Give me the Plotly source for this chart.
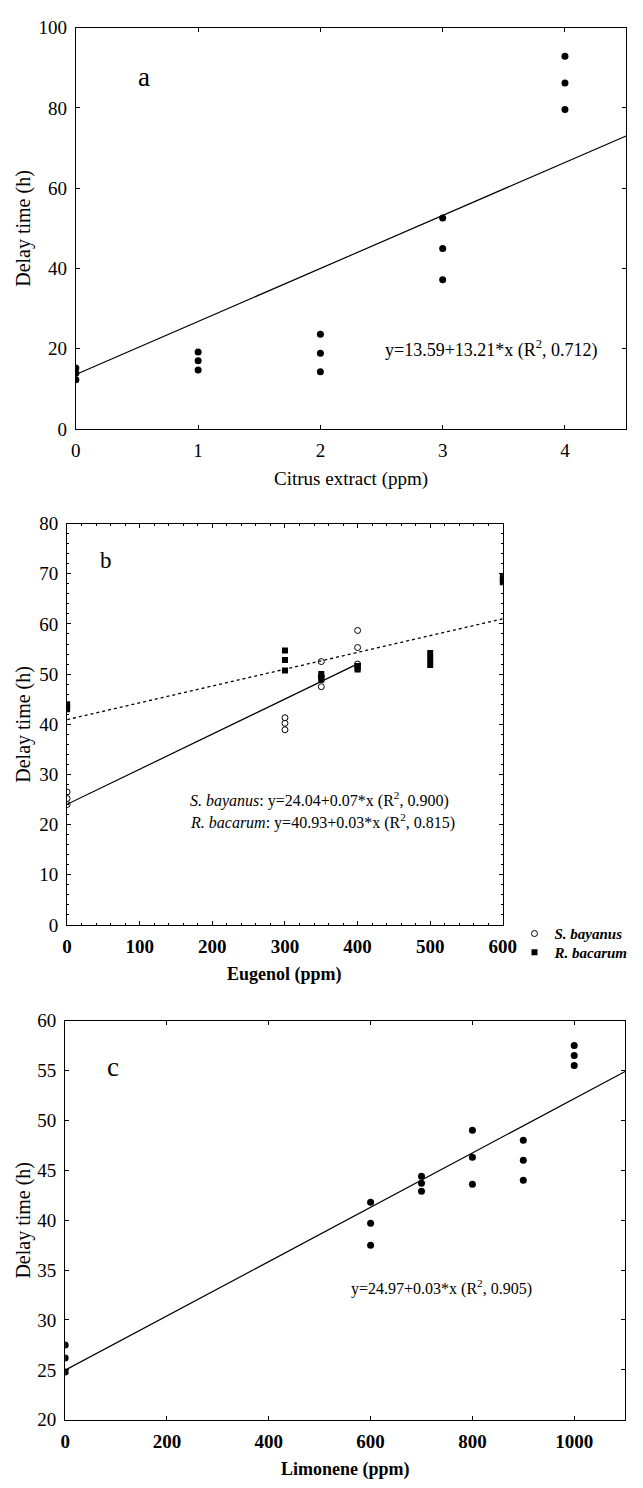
import plotly.graph_objects as go

# ---------------- data ----------------
# Panel a: Citrus extract
a_x = [0, 0, 0, 1, 1, 1, 2, 2, 2, 3, 3, 3, 4, 4, 4]
a_y = [15.2, 13.9, 12.3, 19.2, 17.0, 14.7, 23.6, 18.9, 14.3, 52.6, 45.0, 37.2, 92.9, 86.2, 79.6]
a_fit = {"intercept": 13.59, "slope": 13.21, "x": [0, 4.5]}
a_eq = "y=13.59+13.21*x (R<sup>2</sup>, 0.712)"

# Panel b: Eugenol
b_sb_x = [0, 0, 0, 300, 300, 300, 350, 350, 350, 400, 400, 400]
b_sb_y = [26.5, 25.2, 24.0, 41.3, 40.2, 38.9, 52.5, 49.5, 47.5, 58.7, 55.3, 52.0]
b_rb_x = [0, 0, 0, 300, 300, 300, 350, 350, 350, 400, 400, 400, 500, 500, 500, 600, 600, 600]
b_rb_y = [44.0, 43.5, 43.0, 54.7, 52.8, 50.7, 50.0, 49.4, 48.9, 51.6, 51.2, 50.9,
          54.2, 53.0, 51.8, 69.5, 68.8, 68.3]
b_sb_fit = {"intercept": 24.04, "slope": 0.07, "x": [0, 400]}
b_rb_fit = {"intercept": 40.93, "slope": 0.0335, "x": [0, 600]}
b_eq1 = "<i>S. bayanus</i>: y=24.04+0.07*x (R<sup>2</sup>, 0.900)"
b_eq2 = "<i>R. bacarum</i>: y=40.93+0.03*x (R<sup>2</sup>, 0.815)"

# Panel c: Limonene
c_x = [0, 0, 0, 600, 600, 600, 700, 700, 700, 800, 800, 800, 900, 900, 900, 1000, 1000, 1000]
c_y = [27.5, 26.2, 24.8, 41.8, 39.7, 37.5, 44.4, 43.7, 42.9, 49.0, 46.3, 43.6,
       48.0, 46.0, 44.0, 57.5, 56.5, 55.5]
c_fit = {"intercept": 24.97, "slope": 0.0272, "x": [0, 1100]}
c_eq = "y=24.97+0.03*x (R<sup>2</sup>, 0.905)"

# ---------------- layout helpers ----------------
W, H = 643, 1488
FONT = "Liberation Serif, Times New Roman, serif"


def px_x(p):
    return p / W


def px_y(p):
    return 1 - p / H


def line_y(fit):
    return [fit["intercept"] + fit["slope"] * x for x in fit["x"]]


fig = go.Figure()

# Panel a
fig.add_trace(go.Scatter(x=a_fit["x"], y=line_y(a_fit), mode="lines",
                         line=dict(color="black", width=1.2), showlegend=False,
                         xaxis="x", yaxis="y"))
fig.add_trace(go.Scatter(x=a_x, y=a_y, mode="markers",
                         marker=dict(symbol="circle", size=7, color="black"),
                         showlegend=False, xaxis="x", yaxis="y"))

# Panel b
fig.add_trace(go.Scatter(x=b_sb_fit["x"], y=line_y(b_sb_fit), mode="lines",
                         line=dict(color="black", width=1.2), showlegend=False,
                         xaxis="x2", yaxis="y2"))
fig.add_trace(go.Scatter(x=b_rb_fit["x"], y=line_y(b_rb_fit), mode="lines",
                         line=dict(color="black", width=1.3, dash="3px,3px"), showlegend=False,
                         xaxis="x2", yaxis="y2"))
fig.add_trace(go.Scatter(x=b_rb_x, y=b_rb_y, mode="markers", name="R. bacarum",
                         marker=dict(symbol="square", size=6, color="black"),
                         legend="legend2", xaxis="x2", yaxis="y2"))
fig.add_trace(go.Scatter(x=b_sb_x, y=b_sb_y, mode="markers", name="S. bayanus",
                         marker=dict(symbol="circle-open", size=6, color="black",
                                     line=dict(width=1, color="black")),
                         legend="legend", xaxis="x2", yaxis="y2"))

# Panel c
fig.add_trace(go.Scatter(x=c_fit["x"], y=line_y(c_fit), mode="lines",
                         line=dict(color="black", width=1.2), showlegend=False,
                         xaxis="x3", yaxis="y3"))
fig.add_trace(go.Scatter(x=c_x, y=c_y, mode="markers",
                         marker=dict(symbol="circle", size=7, color="black"),
                         showlegend=False, xaxis="x3", yaxis="y3"))


def axis(domain, rng, dtick, anchor, bold=False, minor=None, size=19):
    d = dict(domain=domain, range=rng, dtick=dtick, tick0=rng[0], anchor=anchor,
             showline=True, linecolor="black", linewidth=1, mirror="allticks",
             ticks="inside", ticklen=4, tickwidth=1, tickcolor="black",
             showgrid=False, zeroline=False, ticklabelstandoff=4,
             tickfont=dict(family=FONT, size=size, color="black",
                           weight="bold" if bold else "normal"))
    if minor:
        d["minor"] = dict(dtick=minor, ticks="inside", ticklen=2, tickcolor="black",
                          tickwidth=1, showgrid=False)
    return d


def legend_at(ycenter):
    return dict(x=px_x(525), y=px_y(ycenter), xanchor="left", yanchor="middle",
                font=dict(family=FONT, size=15, style="italic", weight="bold", color="black"),
                bgcolor="rgba(0,0,0,0)", borderwidth=0, itemwidth=30)


fig.update_layout(
    width=W, height=H,
    margin=dict(l=0, r=0, t=0, b=0),
    paper_bgcolor="white", plot_bgcolor="white",
    font=dict(family=FONT, color="black"),
    xaxis=axis([px_x(73), px_x(640)], [0, 4.5], 1, "y"),
    yaxis=axis([px_y(425), px_y(18)], [0, 100], 20, "x"),
    xaxis2=axis([px_x(64), px_x(513)], [0, 600], 100, "y2", bold=True, minor=20),
    yaxis2=axis([px_y(928), px_y(521)], [0, 80], 10, "x2", minor=2),
    xaxis3=axis([px_x(62), px_x(639)], [0, 1100], 200, "y3", bold=True),
    yaxis3=axis([px_y(1430), px_y(1025)], [20, 60], 5, "x3"),
    legend=legend_at(937),
    legend2=legend_at(956),
)

ann = []
# panel letters
ann.append(dict(x=0.56, y=87.7, xref="x", yref="y", text="a", showarrow=False,
                font=dict(family=FONT, size=27)))
ann.append(dict(x=54, y=72.7, xref="x2", yref="y2", text="b", showarrow=False,
                font=dict(family=FONT, size=23)))
ann.append(dict(x=93, y=55.3, xref="x3", yref="y3", text="c", showarrow=False,
                font=dict(family=FONT, size=27)))
# equations
ann.append(dict(x=3.40, y=20, xref="x", yref="y", text=a_eq, showarrow=False,
                font=dict(family=FONT, size=18)))
ann.append(dict(x=167, y=25.0, xref="x2", yref="y2", text=b_eq1, showarrow=False,
                xanchor="left", font=dict(family=FONT, size=16)))
ann.append(dict(x=167, y=20.6, xref="x2", yref="y2", text=b_eq2, showarrow=False,
                xanchor="left", font=dict(family=FONT, size=16)))
ann.append(dict(x=739, y=33.3, xref="x3", yref="y3", text=c_eq, showarrow=False,
                font=dict(family=FONT, size=16)))

# axis titles
x_titles = [("x", "y", "Citrus extract (ppm)", "normal", 19),
            ("x2", "y2", "Eugenol (ppm)", "bold", 18),
            ("x3", "y3", "Limonene (ppm)", "bold", 18)]
for xr, yr, txt, wt, sz in x_titles:
    ann.append(dict(x=0.5, y=0, xref=xr + " domain", yref=yr + " domain", text=txt,
                    showarrow=False, yshift=-50, yanchor="middle",
                    font=dict(family=FONT, size=sz, weight=wt)))
for yr in ["y", "y2", "y3"]:
    ann.append(dict(x=px_x(19), y=0.5, xref="paper", yref=yr + " domain",
                    text="Delay time (h)", textangle=-90, showarrow=False,
                    xanchor="center", yanchor="middle",
                    font=dict(family=FONT, size=20)))

fig.update_layout(annotations=ann)

fig.write_html("out.html", config={"displayModeBar": False},
               post_script="document.body.style.margin='0';")
